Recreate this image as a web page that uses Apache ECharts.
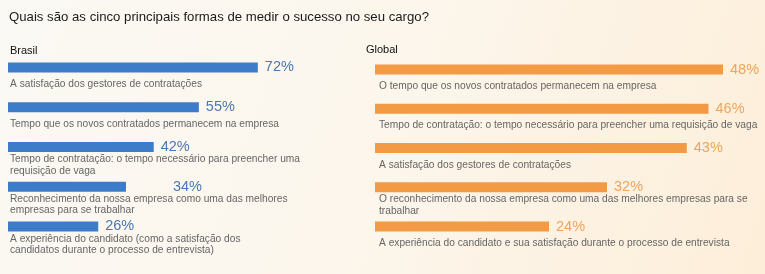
<!DOCTYPE html>
<html><head><meta charset="utf-8">
<script src="https://cdn.jsdelivr.net/npm/echarts@6/dist/echarts.min.js"></script>
<style>html,body{margin:0;padding:0;}#c{width:765px;height:274px;}</style>
</head><body><div id="c"></div>
<script>
const titleText = 'Quais são as cinco principais formas de medir o sucesso no seu cargo?';
const brasilTitle = 'Brasil';
const globalTitle = 'Global';
const brasilCategories = [
  'A satisfação dos gestores de contratações',
  'Tempo que os novos contratados permanecem na empresa',
  'Tempo de contratação: o tempo necessário para preencher uma\nrequisição de vaga',
  'Reconhecimento da nossa empresa como uma das melhores\nempresas para se trabalhar',
  'A experiência do candidato (como a satisfação dos\ncandidatos durante o processo de entrevista)'
];
const brasilValues = [72, 55, 42, 34, 26];
const globalCategories = [
  'O tempo que os novos contratados permanecem na empresa',
  'Tempo de contratação: o tempo necessário para preencher uma requisição de vaga',
  'A satisfação dos gestores de contratações',
  'O reconhecimento da nossa empresa como uma das melhores empresas para se\ntrabalhar',
  'A experiência do candidato e sua satisfação durante o processo de entrevista'
];
const globalValues = [48, 46, 43, 32, 24];

const FONT = 'Liberation Sans, Arial, sans-serif';
const chart = echarts.init(document.getElementById('c'));

function panel(idx, vals, color, labelColor, shifts) {
  return [
    {
      type: 'bar', xAxisIndex: idx, yAxisIndex: idx, barWidth: 10, silent: true,
      itemStyle: { color: color },
      data: vals.map((v, i) => ({
        value: v,
        label: { distance: 7 + (shifts[i] || 0) }
      })),
      label: {
        show: true, position: 'right', formatter: '{c}%',
        color: labelColor, fontSize: 14.5, fontFamily: FONT
      }
    }
  ];
}

const catLabelStyle = {
  align: 'left', verticalAlign: 'top',
  color: '#666', fontSize: 10.2, lineHeight: 11.5, fontFamily: FONT
};

function catData(cats) {
  return cats.map(c => ({
    value: c,
    textStyle: Object.assign({}, catLabelStyle, { padding: [c.indexOf('\n') >= 0 ? 6.5 : 11, 0, 0, 0] })
  }));
}

chart.setOption({
  backgroundColor: {
    type: 'linear', x: 0, y: 0, x2: 1, y2: 1,
    colorStops: [{ offset: 0, color: '#fbf9f4' }, { offset: 0.5, color: '#fcf6ec' }, { offset: 1, color: '#fdeed9' }]
  },
  animation: false,
  title: [
    { text: titleText, left: 9, top: 11, padding: 0, textStyle: { fontSize: 13.2, fontWeight: 'normal', color: '#1a1a1a', fontFamily: FONT } },
    { text: brasilTitle, left: 10, top: 45, padding: 0, textStyle: { fontSize: 11, fontWeight: 'normal', color: '#111', fontFamily: FONT } },
    { text: globalTitle, left: 366, top: 44, padding: 0, textStyle: { fontSize: 11, fontWeight: 'normal', color: '#111', fontFamily: FONT } }
  ],
  grid: [
    { left: 8, top: 47.6, width: 347, height: 198.75, containLabel: false, outerBoundsMode: 'none' },
    { left: 375, top: 49.9, width: 362.5, height: 196.25, containLabel: false, outerBoundsMode: 'none' }
  ],
  xAxis: [
    { gridIndex: 0, type: 'value', min: 0, max: 100, show: false },
    { gridIndex: 1, type: 'value', min: 0, max: 50, show: false }
  ],
  yAxis: [0, 1].map(i => ({
    gridIndex: i, type: 'category', inverse: true,
    data: catData(i === 0 ? brasilCategories : globalCategories),
    axisLine: { show: false }, axisTick: { show: false }, splitLine: { show: false },
    axisLabel: Object.assign({ inside: true, margin: i === 0 ? 2 : 4 }, catLabelStyle),
    z: 5
  })),
  series: [
    ...panel(0, brasilValues, '#3d7cc8', '#4a78b4', { 3: 40 }),
    ...panel(1, globalValues, '#f39a45', '#f0a45a', {})
  ]
});
</script></body></html>
